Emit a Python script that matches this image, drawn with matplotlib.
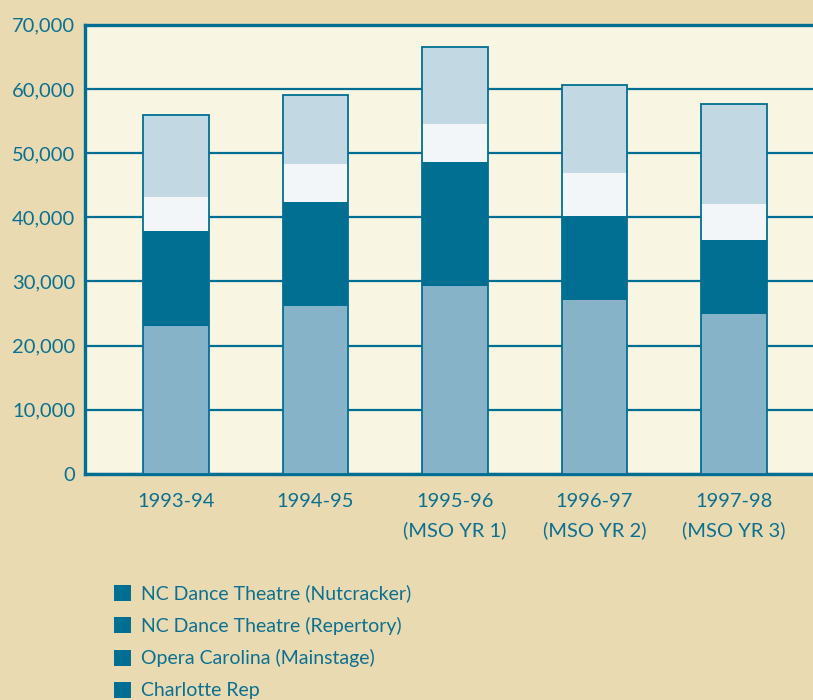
import numpy as np
import matplotlib
matplotlib.use("Agg")
import matplotlib.pyplot as plt
from matplotlib.patches import Patch

# data (attendance), stacked bottom -> top
seasons = ["1993-94", "1994-95", "1995-96\n(MSO YR 1)", "1996-97\n(MSO YR 2)", "1997-98\n(MSO YR 3)"]
series_names = ["NC Dance Theatre (Nutcracker)", "NC Dance Theatre (Repertory)",
                "Opera Carolina (Mainstage)", "Charlotte Rep"]
nutcracker = [23100, 26200, 29300, 27100, 24900]
repertory = [14800, 16200, 19300, 13100, 11500]
opera = [5200, 5900, 5900, 6700, 5700]
charlotte_rep = [12800, 10700, 12000, 13700, 15500]
yticks = [0, 10000, 20000, 30000, 40000, 50000, 60000, 70000]

teal = "#016F92"
text_col = "#0C7090"
seg_colors = ["#86B3C7", teal, "#F2F6F9", "#C2D9E4"]
fig_bg = "#E9DAB2"
ax_bg = "#F8F5E3"

plt.rcParams['font.family'] = ['Lato', 'DejaVu Sans']

fig = plt.figure(figsize=(8.13, 7.0), dpi=100, facecolor=fig_bg)
ax = fig.add_axes([0.1046, 0.3229, 0.8954, 0.6418], facecolor=ax_bg)

x = np.arange(len(seasons))
width = 0.47
bottom = np.zeros(len(seasons))
for vals, col in zip([nutcracker, repertory, opera, charlotte_rep], seg_colors):
    ax.bar(x, vals, width, bottom=bottom, color=col, linewidth=0, zorder=3)
    bottom += np.array(vals)
# outline round the whole bar
ax.bar(x, bottom, width, fill=False, edgecolor=teal, linewidth=1.3, zorder=4)

ax.set_xlim(-0.652, 4.566)
ax.set_ylim(0, 70000)
ax.set_yticks(yticks)
ax.set_yticklabels([f"{v:,}" for v in yticks])
ax.yaxis.grid(True, color=teal, linewidth=1.6, zorder=0)
ax.set_axisbelow(True)

ax.set_xticks(x)
ax.set_xticklabels(seasons, fontsize=14.5, linespacing=1.75, va='top')
ax.tick_params(axis='x', length=0, pad=14, colors=text_col)
ax.tick_params(axis='y', length=0, pad=7, colors=text_col, labelsize=14.5)

for side in ['top', 'left', 'bottom']:
    ax.spines[side].set_color(teal)
    ax.spines[side].set_linewidth(2.4)
ax.spines['right'].set_visible(False)

handles = [Patch(facecolor=teal, edgecolor='none') for _ in series_names]
fig.legend(handles, series_names, loc='upper left', bbox_to_anchor=(0.1402, 0.165),
           frameon=False, fontsize=14, labelcolor=text_col,
           handlelength=0.88, handleheight=0.88, handletextpad=0.52,
           labelspacing=0.74, borderaxespad=0, borderpad=0)

fig.savefig("out.png", dpi=100, facecolor=fig_bg)
